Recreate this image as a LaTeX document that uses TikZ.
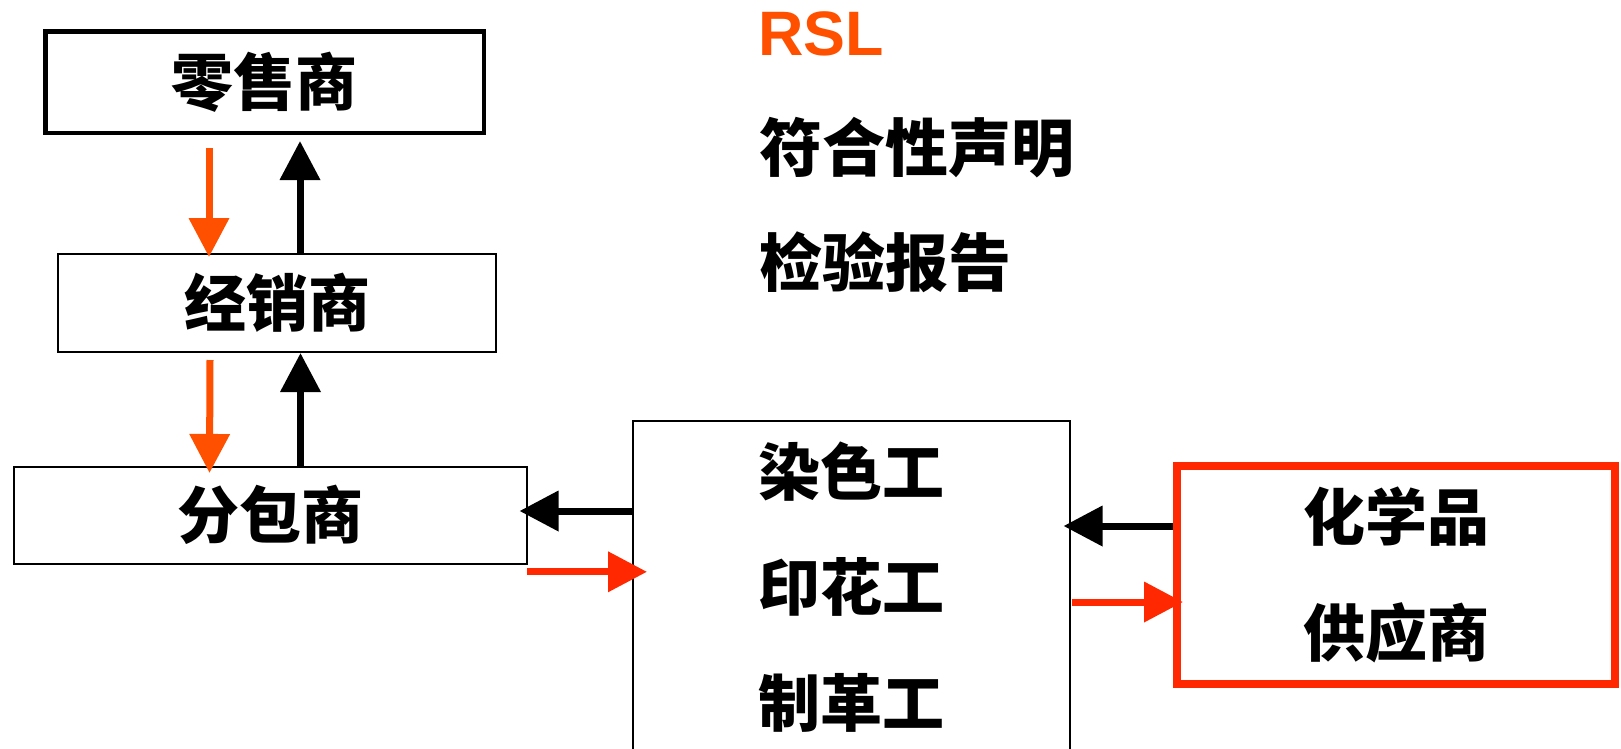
\documentclass[tikz,border=0pt]{standalone}
\usepackage{fontspec}
\setmainfont{Liberation Sans}
\newfontfamily\cjk{Noto Sans CJK SC}
\usetikzlibrary{arrows.meta,calc}
\definecolor{rslorange}{RGB}{255,80,0}
\definecolor{flowred}{RGB}{255,40,0}
\tikzset{
  box/.style={draw=black, line width=2pt, inner sep=0pt, outer sep=0pt, align=center,
    font=\cjk\bfseries\fontsize{62pt}{70pt}\selectfont},
  lbl/.style={inner sep=0pt, outer sep=0pt, align=center,
    font=\cjk\bfseries\fontsize{62pt}{70pt}\selectfont},
  legend/.style={inner sep=0pt, outer sep=0pt, anchor=west,
    font=\cjk\bfseries\fontsize{63pt}{70pt}\selectfont},
  karr/.style={draw=black, line width=7pt, -{Triangle[width=39pt,length=39pt]}},
  oarr/.style={draw=rslorange, line width=7pt, -{Triangle[width=39pt,length=39pt]}},
  rarr/.style={draw=flowred, line width=7pt, -{Triangle[width=39pt,length=39pt]}},
}
\begin{document}
\begin{tikzpicture}[x=1pt,y=-1pt]
\useasboundingbox (0,0) rectangle (1621,748);
% boxes
\node[box, line width=4.5pt, minimum width=438.5pt, minimum height=101.5pt] (ret) at (264.5,82) {零售商};
\node[box, minimum width=438pt, minimum height=98pt] (dis) at (277,303) {经销商};
\node[box, minimum width=513pt, minimum height=97.3pt] (sub) at (270.5,515.3) {分包商};
\node[box, minimum width=437pt, minimum height=339pt] (mid) at (851.5,590.5) {};
\node[lbl, font=\cjk\bfseries\fontsize{62pt}{115.25pt}\selectfont] (midtext) at (851.6,587) {染色工\\印花工\\制革工};
\node[box, draw=flowred, line width=8pt, minimum width=438pt, minimum height=218pt,
  font=\cjk\bfseries\fontsize{62pt}{115.5pt}\selectfont] (chem) at (1396,575) {化学品\\供应商};
% legend texts
\node[inner sep=0pt, anchor=base west, text=rslorange, font=\bfseries\fontsize{62.8pt}{70pt}\selectfont] (rsl) at (758,55) {RSL};
\node[legend] (doc) at (759,147.5) {符合性声明};
\node[legend] (rep) at (759,262.5) {检验报告};
% arrows
\draw[oarr] ($(ret.south)+(-55.5,15.25)$) -- ($(dis.north)+(-68,3)$);
\draw[karr] ($(dis.north)+(23,0)$) -- ($(ret.south)+(35.5,8.25)$);
\draw[oarr] ($(dis.south)+(-67,8)$) -- ($(sub.north)+(-61,6.3)$);
\draw[karr] ($(sub.north)+(30,0)$) -- ($(dis.south)+(23.5,1)$);
\draw[karr] ($(sub.east -| mid.west)+(0,-4.3)$) -- ($(sub.east)+(-7.5,-4.3)$);
\draw[rarr] ($(sub.east)+(0,56.5)$) -- ($(sub.east -| mid.west)+(14,56.5)$);
\draw[karr] ($(chem.west)+(-4,-49)$) -- ($(chem.west -| mid.east)+(-6.5,-49)$);
\draw[rarr] ($(chem.west -| mid.east)+(2,27)$) -- ($(chem.west)+(6,27)$);
\end{tikzpicture}
\end{document}
